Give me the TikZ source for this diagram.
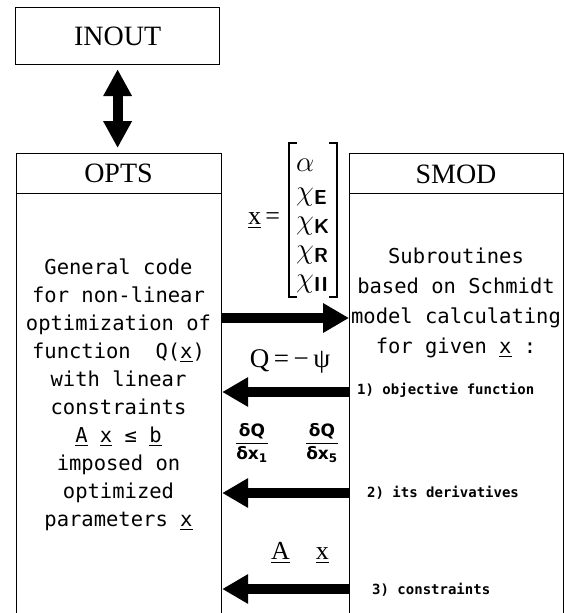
\RequirePackage{fix-cm}
\documentclass[tikz,border=0pt]{standalone}
\usepackage{amsmath}
\usepackage{fontspec}
\setmainfont{Liberation Serif}
\newfontfamily\bodyfont{DejaVu Sans Mono}
\newfontfamily\gfont{DejaVu Sans}
\usetikzlibrary{arrows.meta}
\begin{document}
\begin{tikzpicture}[x=1pt,y=1pt,
  box/.style={draw, line width=1.2pt, inner sep=0pt, anchor=north west},
  head/.style={font=\fontsize{28}{30}\selectfont},
  body/.style={font=\bodyfont\fontsize{20.5}{28}\selectfont, align=center, inner sep=0pt},
  lab/.style={font=\bodyfont\bfseries\fontsize{14}{16}\selectfont, anchor=west, inner sep=0pt},
  deriv/.style={font=\gfont\bfseries\fontsize{17}{20}\selectfont, inner sep=0pt},
  serlab/.style={font=\fontsize{26}{29}\selectfont, inner sep=0pt},
  vecent/.style={font=\fontsize{29}{29}\selectfont, inner sep=0pt, align=left, anchor=west},
  bracket/.style={line width=1.8pt},
  fatarrow/.style={line width=10pt, -{Triangle[length=26pt,width=28pt]}},
  dblarrow/.style={line width=10pt, {Triangle[length=27pt,width=27pt]}-{Triangle[length=27pt,width=27pt]}},
  divider/.style={line width=1.2pt}
]
\useasboundingbox (0,0) rectangle (564,-613);

% boxes
\node[box, head, minimum width=204pt, minimum height=57pt] (inout) at (15,-7) {INOUT};
\node[box, minimum width=205pt, minimum height=462pt] (opts) at (16,-153) {};
\node[box, minimum width=214pt, minimum height=462pt] (smod) at (349,-153) {};

% headers
\coordinate (hl) at (0,-193.5);
\draw[divider] (opts.west |- hl) -- (opts.east |- hl);
\draw[divider] (smod.west |- hl) -- (smod.east |- hl);
\node[head] (optsh) at (118.5,-173) {OPTS};
\node[head] (smodh) at (456,-174) {SMOD};

% double arrow
\draw[dblarrow, shorten <=4pt, shorten >=5pt] (inout.south) -- (inout.south |- opts.north);

% body texts
\node[body] (optsbody) at (118.5,-395) {General code\\for non-linear\\optimization of\\function~~Q(\underline{x})\\with linear\\constraints\\\underline{A}~\underline{x}~≤~\underline{b}\\imposed on\\optimized\\parameters \underline{x}};
\node[body, font=\bodyfont\fontsize{20.5}{30}\selectfont] (smodbody) at (456,-303) {Subroutines\\based on Schmidt\\model calculating\\for given \underline{x} :};

% vector x
\node[serlab] (xeq) at (264,-221) {\underline{x}\,=};
\node[vecent] (xent) at (296,-226) {$\alpha$\\$\chi_{\textsf{\bfseries E}}$\\$\chi_{\textsf{\bfseries K}}$\\$\chi_{\textsf{\bfseries R}}$\\$\chi_{\textsf{\bfseries II}}$};
\draw[bracket] (297,-143) -- (289,-143) -- (289,-297) -- (297,-297);
\draw[bracket] (329,-143) -- (337,-143) -- (337,-297) -- (329,-297);

% connectors
\coordinate (y1) at (0,-318);
\coordinate (y2) at (0,-392);
\coordinate (y3) at (0,-493);
\coordinate (y4) at (0,-589);
\draw[fatarrow] (opts.east |- y1) -- (smod.west |- y1);
\draw[fatarrow] (smod.west |- y2) -- (opts.east |- y2);
\draw[fatarrow] (smod.west |- y3) -- (opts.east |- y3);
\draw[fatarrow] (smod.west |- y4) -- (opts.east |- y4);

% labels between boxes
\node[serlab, font=\fontsize{27}{29}\selectfont] (qpsi) at (290,-361) {Q\,=\,−\,ψ};
\node[deriv] (d1) at (252,-443) {$\dfrac{\text{δQ}}{\text{δx}_{\text{1}}}$};
\node[deriv] (d5) at (322,-443) {$\dfrac{\text{δQ}}{\text{δx}_{\text{5}}}$};
\node[serlab] (ax) at (300,-553) {\underline{A}\quad\underline{x}};

% labels right
\node[lab] (l1) at (357,-390) {1) objective function};
\node[lab] (l2) at (367,-493) {2) its derivatives};
\node[lab] (l3) at (372,-590) {3) constraints};
\end{tikzpicture}
\end{document}
